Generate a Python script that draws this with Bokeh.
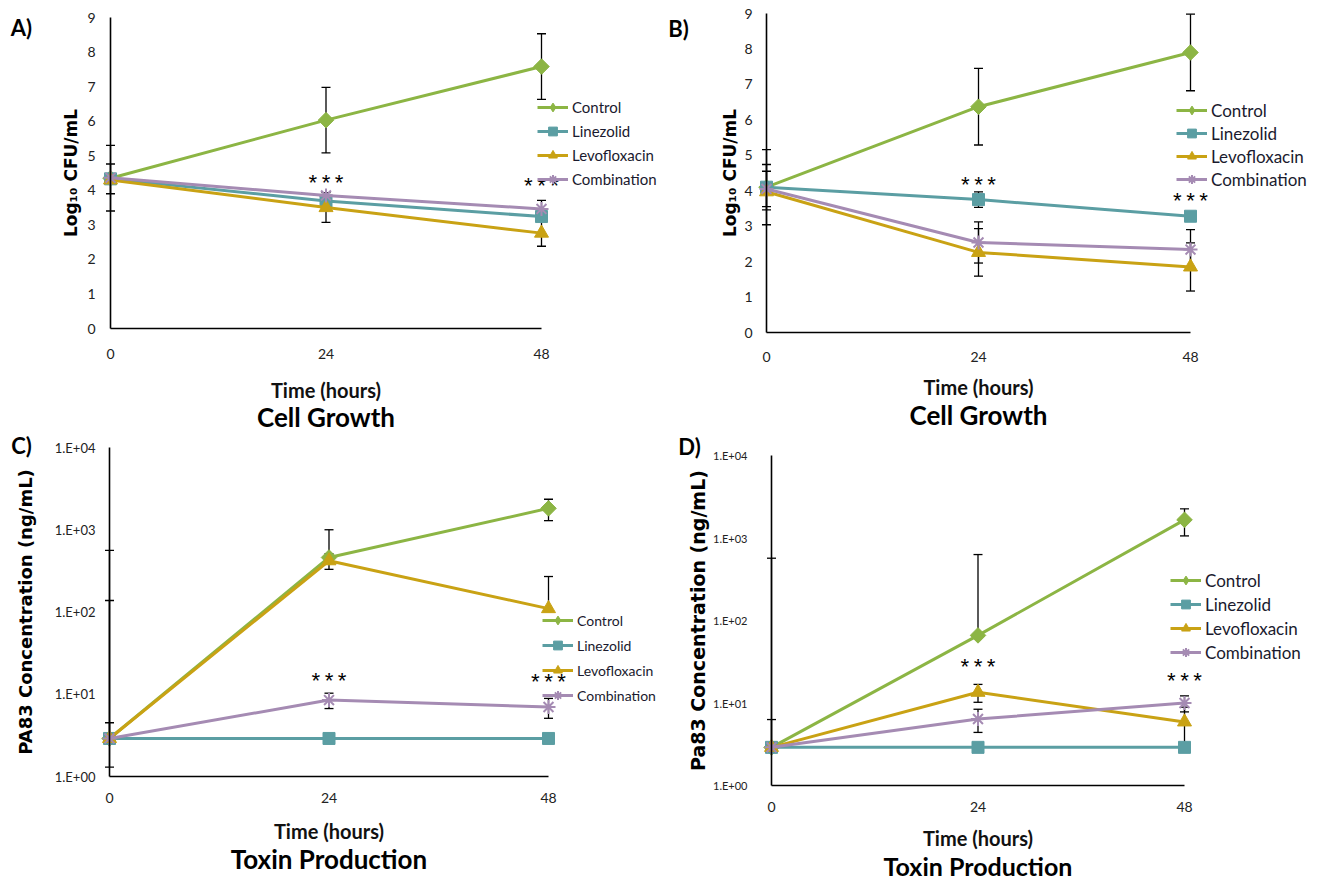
import math
from bokeh.plotting import figure
from bokeh.models import Range1d, FixedTicker, Legend, LegendItem, Label
from bokeh.layouts import column, row
from bokeh.embed import file_html
from bokeh.resources import INLINE

# ---------------- data ----------------
hours = [0, 24, 48]
series = ["Control", "Linezolid", "Levofloxacin", "Combination"]
colors = ["#8CB544", "#5B9EA3", "#C9A214", "#A58BB3"]
markers = ["square", "square", "triangle", "asterisk"]
legend_markers = ["diamond", "square", "triangle", "asterisk"]
marker_angles = [math.pi / 4, 0, 0, 0]
marker_sizes = [11, 12, 14, 14]

x_ticks = [0, 24, 48]
y_ticks_lin = [0, 1, 2, 3, 4, 5, 6, 7, 8, 9]
y_ticks_log = [1, 10, 100, 1000, 10000]
y_tick_labels_log = ["1.E+00", "1.E+01", "1.E+02", "1.E+03", "1.E+04"]

# Panel A: cell growth (log10 CFU/mL)
a_control = [4.35, 6.03, 7.58]
a_control_err = [0.95, 0.95, 0.95]
a_linezolid = [4.33, 3.69, 3.24]
a_linezolid_err = [0.43, 0.0, 0.0]
a_levofloxacin = [4.30, 3.50, 2.76]
a_levofloxacin_err = [0.0, 0.43, 0.38]
a_combination = [4.36, 3.85, 3.46]
a_combination_err = [0.0, 0.0, 0.25]
a_sig = [4.14, 4.05]

# Panel B: cell growth (log10 CFU/mL)
b_control = [4.10, 6.37, 7.90]
b_control_err = [1.06, 1.08, 1.08]
b_linezolid = [4.10, 3.75, 3.28]
b_linezolid_err = [0.64, 0.22, 0.0]
b_levofloxacin = [3.97, 2.26, 1.85]
b_levofloxacin_err = [0.0, 0.67, 0.68]
b_combination = [4.05, 2.54, 2.34]
b_combination_err = [0.50, 0.58, 0.56]
b_sig = [4.10, 3.64]

# Panel C: PA83 (ng/mL)
c_control = [2.9, 460, 1820]
c_control_err = [557, 540, 530]
c_linezolid = [2.9, 2.9, 2.9]
c_linezolid_err = [0, 0, 0]
c_levofloxacin = [2.9, 420, 110]
c_levofloxacin_err = [135, 90, 160]
c_combination = [2.9, 8.5, 7.0]
c_combination_err = [1.6, 1.8, 1.9]
c_sig = [13.6, 13.1]

# Panel D: Pa83 (ng/mL)
d_control = [2.9, 66, 1660]
d_control_err = [566, 564, 600]
d_linezolid = [2.9, 2.9, 2.9]
d_linezolid_err = [0, 0, 0]
d_levofloxacin = [2.9, 13.5, 5.9]
d_levofloxacin_err = [0, 3.3, 3.0]
d_combination = [2.9, 6.4, 10.0]
d_combination_err = [3.4, 2.0, 2.2]
d_sig = [25.2, 17.1]

FONT = "Lato"
NAN = float("nan")


def make_panel(letter, title, ylabel, log, values, errs, sig, geo):
    W, H = geo["W"], geo["H"]
    x0, x48, ybot, ytop = geo["x0"], geo["x48"], geo["ybot"], geo["ytop"]
    yt = y_ticks_log if log else y_ticks_lin
    xspan = x_ticks[-1] - x_ticks[0]
    ppu = (x48 - x0) / xspan

    def px2x(px):
        return x_ticks[0] + (px - x0) / ppu

    if log:
        l0, l1 = math.log10(yt[0]), math.log10(yt[-1])

        def py2y(py):
            return 10 ** (l0 + (ybot - py) / (ybot - ytop) * (l1 - l0))
    else:
        def py2y(py):
            return yt[0] + (ybot - py) / (ybot - ytop) * (yt[-1] - yt[0])

    p = figure(width=W, height=H,
               x_range=Range1d(px2x(0), px2x(W)),
               y_range=Range1d(py2y(H), py2y(0)),
               y_axis_type="log" if log else "linear",
               output_backend="svg", toolbar_location=None,
               min_border=0, min_border_left=0, min_border_right=0,
               min_border_top=0, min_border_bottom=0)
    p.outline_line_color = None
    p.grid.visible = False
    p.background_fill_color = "white"
    p.border_fill_color = "white"

    xa = p.xaxis[0]
    xa.fixed_location = yt[0]
    xa.ticker = FixedTicker(ticks=x_ticks, minor_ticks=[])
    xa.bounds = (x_ticks[0], x_ticks[-1])
    xa.axis_line_color = "black"
    xa.axis_line_width = 1.6
    xa.major_tick_out = 0
    xa.major_tick_in = 0
    xa.minor_tick_out = 0
    xa.minor_tick_in = 0
    xa.major_label_text_font = FONT
    xa.major_label_text_font_size = "14px"
    xa.major_label_text_color = "#222222"
    xa.major_label_standoff = geo["xl_so"]

    ya = p.yaxis[0]
    ya.fixed_location = x_ticks[0]
    if log:
        ya.ticker = FixedTicker(ticks=y_ticks_log, minor_ticks=[])
        ya.major_label_overrides = {t: lab for t, lab in zip(y_ticks_log, y_tick_labels_log)}
    else:
        ya.ticker = FixedTicker(ticks=y_ticks_lin, minor_ticks=[])
    ya.bounds = (yt[0], yt[-1])
    ya.axis_line_color = "black"
    ya.axis_line_width = 1.6
    ya.major_tick_out = 0
    ya.major_tick_in = 0
    ya.minor_tick_out = 0
    ya.minor_tick_in = 0
    ya.major_label_text_font = FONT
    ya.major_label_text_font_size = geo["ytick_fs"]
    ya.major_label_text_color = "#222222"
    ya.major_label_standoff = geo["yl_so"]

    # error bars (drawn beneath series)
    sx0, sy0, sy1, cx, cy = [], [], [], [], []
    for vals, er in zip(values, errs):
        for t, v, e in zip(hours, vals, er):
            if e <= 0:
                continue
            up = v + e
            lo = v - e
            if log and lo <= 0:
                lo = v
            else:
                cx.append(t); cy.append(lo)
            sx0.append(t); sy0.append(lo); sy1.append(up)
            cx.append(t); cy.append(up)
    p.segment(x0=sx0, y0=sy0, x1=sx0, y1=sy1, line_color="black", line_width=1.3)
    p.scatter(cx, cy, marker="dash", size=9, line_color="black", line_width=1.3)

    items = []
    for name, vals, col, mk, lmk, ang, ms in zip(series, values, colors, markers,
                                                 legend_markers, marker_angles, marker_sizes):
        lr = p.line(hours, vals, line_color=col, line_width=3)
        if mk == "asterisk":
            p.scatter(hours, vals, marker=mk, size=ms, line_color=col, line_width=2)
        else:
            p.scatter(hours, vals, marker=mk, size=ms, angle=ang,
                      fill_color=col, line_color=col)
        # legend-only swatch (no visible point)
        if lmk == "asterisk":
            lg = p.scatter([NAN], [NAN], marker=lmk, size=ms, line_color=col, line_width=2)
        else:
            lg = p.scatter([NAN], [NAN], marker=lmk, size=ms, fill_color=col, line_color=col)
        items.append(LegendItem(label=name, renderers=[lr, lg]))

    gh = 22
    spacing = max(0, int(round(geo["leg_pitch"] - gh)))
    leg_h = len(series) * gh + (len(series) - 1) * spacing
    leg_top = geo["leg_y"] - gh / 2
    loc = (int(round(geo["leg_x"])), int(round(H - leg_top - leg_h)))
    legend = Legend(items=items, location=loc, orientation="vertical",
                    label_text_font=FONT, label_text_font_size=geo["leg_fs"],
                    label_text_color="#1a1a2e",
                    glyph_width=31, glyph_height=gh, label_height=gh,
                    label_standoff=4, spacing=spacing, padding=0, margin=0,
                    border_line_color=None, background_fill_alpha=0)
    p.add_layout(legend)

    # significance marks
    for t, s in zip(hours[1:], sig):
        p.add_layout(Label(x=t, y=s, text="***", text_align="center", text_baseline="middle",
                           text_font="Liberation Mono", text_font_size="22px", text_color="black"))

    xmid = (x_ticks[0] + x_ticks[-1]) / 2
    # axis titles and panel caption
    p.add_layout(Label(x=xmid, y=py2y(geo["xt_y"]), text="Time (hours)",
                       text_align="center", text_baseline="middle",
                       text_font=FONT, text_font_size="20px", text_font_style="bold",
                       text_color="#111111"))
    p.add_layout(Label(x=xmid, y=py2y(geo["title_y"]), text=title,
                       text_align="center", text_baseline="middle",
                       text_font=FONT, text_font_size=geo["title_fs"], text_font_style="bold",
                       text_color="black"))
    p.add_layout(Label(x=px2x(geo["yt_x"]), y=py2y((ybot + ytop) / 2), text=ylabel,
                       angle=math.pi / 2, text_align="center", text_baseline="middle",
                       text_font="DejaVu Sans", text_font_size=geo["yt_fs"],
                       text_font_style="bold", text_color="black"))
    # panel letter
    p.add_layout(Label(x=px2x(geo["let_x"]), y=py2y(geo["let_y"]), text=letter,
                       text_align="center", text_baseline="middle",
                       text_font=FONT, text_font_size="22px", text_font_style="bold",
                       text_color="black"))
    return p


geoA = dict(W=660, H=432, x0=110, x48=541, ybot=328, ytop=17,
            xl_so=20, yl_so=15, ytick_fs="14px", yt_x=70, yt_fs="17px",
            xt_y=389, title_y=416, title_fs="26px", leg_fs="15px",
            leg_x=537, leg_y=107, leg_pitch=24.5, let_x=21, let_y=27)
geoB = dict(W=663, H=432, x0=106, x48=530, ybot=332, ytop=13,
            xl_so=19, yl_so=14, ytick_fs="14px", yt_x=69, yt_fs="17px",
            xt_y=386, title_y=414, title_fs="26px", leg_fs="17px",
            leg_x=516, leg_y=110, leg_pitch=23, let_x=18, let_y=28)
geoC = dict(W=660, H=450, x0=109, x48=548, ybot=344, ytop=15,
            xl_so=16, yl_so=14, ytick_fs="13px", yt_x=25, yt_fs="18px",
            xt_y=398, title_y=426, title_fs="26px", leg_fs="14px",
            leg_x=542, leg_y=188, leg_pitch=25, let_x=21, let_y=13)
geoD = dict(W=663, H=450, x0=111, x48=524, ybot=353, ytop=23,
            xl_so=16, yl_so=24, ytick_fs="11px", yt_x=37, yt_fs="19px",
            xt_y=405, title_y=433, title_fs="25px", leg_fs="17px",
            leg_x=510, leg_y=148, leg_pitch=24, let_x=29, let_y=14)

pA = make_panel("A)", "Cell Growth", "Log₁₀ CFU/mL", False,
                [a_control, a_linezolid, a_levofloxacin, a_combination],
                [a_control_err, a_linezolid_err, a_levofloxacin_err, a_combination_err],
                a_sig, geoA)
pB = make_panel("B)", "Cell Growth", "Log₁₀ CFU/mL", False,
                [b_control, b_linezolid, b_levofloxacin, b_combination],
                [b_control_err, b_linezolid_err, b_levofloxacin_err, b_combination_err],
                b_sig, geoB)
pC = make_panel("C)", "Toxin Production", "PA83 Concentration (ng/mL)", True,
                [c_control, c_linezolid, c_levofloxacin, c_combination],
                [c_control_err, c_linezolid_err, c_levofloxacin_err, c_combination_err],
                c_sig, geoC)
pD = make_panel("D)", "Toxin Production", "Pa83 Concentration (ng/mL)", True,
                [d_control, d_linezolid, d_levofloxacin, d_combination],
                [d_control_err, d_linezolid_err, d_levofloxacin_err, d_combination_err],
                d_sig, geoD)

layout = column(row(pA, pB, spacing=0), row(pC, pD, spacing=0), spacing=0)
open("out.html", "w").write(file_html(layout, INLINE))
